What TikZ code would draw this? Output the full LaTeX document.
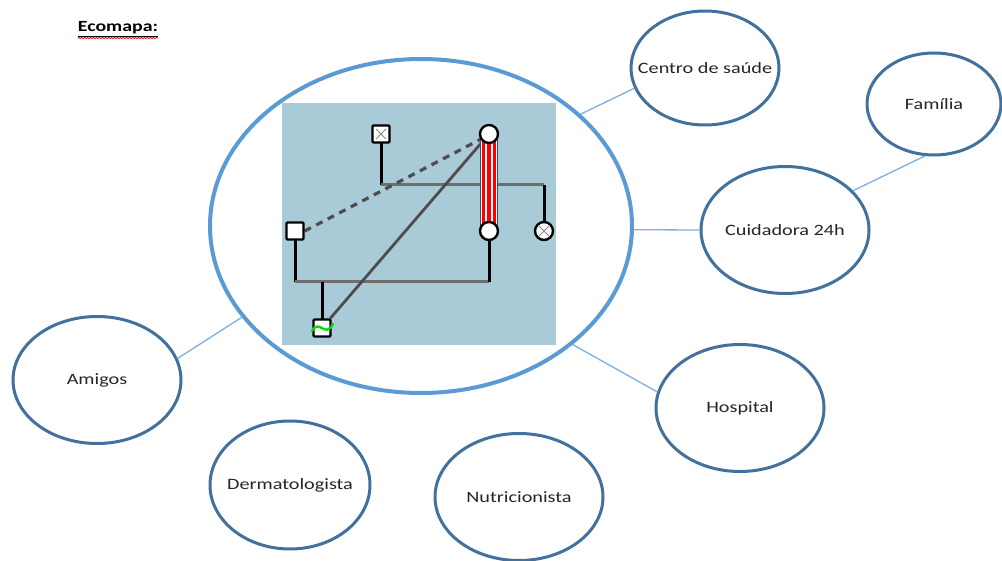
\documentclass[tikz,border=0pt]{standalone}
\usepackage{fontspec}
\setmainfont{Carlito}[FakeStretch=1.28]
\usetikzlibrary{shapes.geometric,decorations.pathmorphing}
\definecolor{bigblue}{HTML}{5B9BD5}
\definecolor{satblue}{HTML}{41719C}
\definecolor{linkblue}{HTML}{7DB0E0}
\definecolor{panel}{HTML}{A9CBD7}
\definecolor{gline}{HTML}{6E6E6E}
\definecolor{dline}{HTML}{4D4D4D}
\definecolor{xgray}{HTML}{8A8A8A}
\definecolor{wavegreen}{HTML}{00DD00}
\pgfdeclarelayer{bg}
\pgfdeclarelayer{mid}
\pgfsetlayers{bg,mid,main}
\tikzset{
  sat/.style={ellipse, draw=satblue, line width=3pt, inner sep=0pt, minimum width=168pt, minimum height=127pt,
    label={[font=\fontsize{15.8}{18}\selectfont, text=black!85, inner sep=0pt]center:#1}},
  bigc/.style={ellipse, draw=bigblue, line width=4pt, inner sep=0pt},
  link/.style={draw=linkblue, line width=1.3pt},
  sqnode/.style={rectangle, draw=black, line width=2.4pt, fill=white, minimum size=17pt, inner sep=0pt, rounded corners=1pt},
  cinode/.style={circle, draw=black, line width=2.4pt, fill=white, minimum size=18pt, inner sep=0pt},
  vline/.style={draw=black, line width=3pt},
  hline/.style={draw=gline, line width=3pt},
  xline/.style={draw=xgray, line width=1pt},
  redl/.style={draw=red, line width=3.4pt},
}
\begin{document}
\begin{tikzpicture}[x=1pt,y=-1pt]
\useasboundingbox (0,0) rectangle (1002,561);
\begin{pgfonlayer}{bg}
\fill[white] (0,0) rectangle (1002,561);
\end{pgfonlayer}

% title
\node[font=\fontsize{15.5}{18}\selectfont\bfseries, inner sep=0pt, anchor=base] (title) at (118,32) {\underline{Ecomapa:}};
\draw[red, line width=0.7pt, decorate, decoration={snake, amplitude=0.8pt, segment length=3pt}]
  ([yshift=-6pt]title.base west) -- ([yshift=-6pt]title.base east);

% big circle and panel
\node[bigc, minimum width=422pt, minimum height=334pt] (big) at (421,226) {};
\begin{pgfonlayer}{bg}
\node[fill=panel, minimum width=274pt, minimum height=242pt, inner sep=0pt] (panel) at (419,224) {};
\end{pgfonlayer}

% satellites
\node[sat={Centro de saúde}, minimum width=148pt, minimum height=114pt] (centro) at (705,68) {};
\node[sat={Família}, minimum width=134pt, minimum height=102pt] (familia) at (934,104) {};
\node[sat={Cuidadora 24h}] (cuid) at (785,230) {};
\node[sat={Hospital}] (hosp) at (740,408) {};
\node[sat={Amigos}] (amigos) at (97,380) {};
\node[sat={Dermatologista}, minimum width=160pt, minimum height=128pt] (derma) at (290,485) {};
\node[sat={Nutricionista}] (nutri) at (519,497) {};

% connectors
\draw[link] (big.35) -- (centro.196);
\draw[link] (cuid.30) -- (familia.260);
\draw[link] (big.-1) -- (cuid.180);
\draw[link] (big.-38) -- (hosp.169);
\draw[link] (big.207) -- (amigos.15);

% genogram nodes
\node[sqnode] (gf) at (381,134) {};
\node[cinode] (gm) at (489,134) {};
\node[cinode] (aunt) at (544,231) {};
\node[cinode] (mother) at (489,231) {};
\node[sqnode] (father) at (295,231) {};
\node[sqnode] (child) at (322,328) {};
\coordinate (j1) at (381,185);
\coordinate (j2) at (544,185);
\coordinate (k1) at (295,282);
\coordinate (k2) at (489,282);
\coordinate (k3) at (322,282);

% crosses and wave
\draw[xline] ([shift={(-5,-5)}]gf.center) -- ([shift={(5,5)}]gf.center);
\draw[xline] ([shift={(-5,5)}]gf.center) -- ([shift={(5,-5)}]gf.center);
\draw[xline] ([shift={(-5.5,-5.5)}]aunt.center) -- ([shift={(5.5,5.5)}]aunt.center);
\draw[xline] ([shift={(-5.5,5.5)}]aunt.center) -- ([shift={(5.5,-5.5)}]aunt.center);
\draw[wavegreen, line width=2.4pt, line cap=round]
  ([shift={(-10,3)}]child.center) .. controls ([shift={(-3,-10)}]child.center) and ([shift={(3,11)}]child.center) .. ([shift={(11,-4)}]child.center);

% genogram lines
\begin{pgfonlayer}{mid}
\draw[vline] (gf.center) -- (j1);
\draw[hline] (j1) -- (j2);
\draw[vline] (j2) -- (aunt.center);
\draw[vline] (father.center) -- (k1);
\draw[hline] (k1) -- (k2);
\draw[vline] (k2) -- (mother.center);
\draw[vline] (k3) -- (child.center);
\draw[draw=dline, line width=3.2pt, dash pattern=on 7pt off 6pt] (father.east) -- (gm.212);
\draw[draw=dline, line width=2.8pt] (child) -- (gm);
\draw[draw=black!70, line width=18pt] (gm.center) -- (mother.center);
\draw[draw=white, line width=16pt] (gm.center) -- (mother.center);
\draw[redl] ([xshift=-5.6pt]gm.center) -- ([xshift=-5.6pt]mother.center);
\draw[redl] (gm.center) -- (mother.center);
\draw[redl] ([xshift=5.6pt]gm.center) -- ([xshift=5.6pt]mother.center);
\end{pgfonlayer}
\end{tikzpicture}
\end{document}
